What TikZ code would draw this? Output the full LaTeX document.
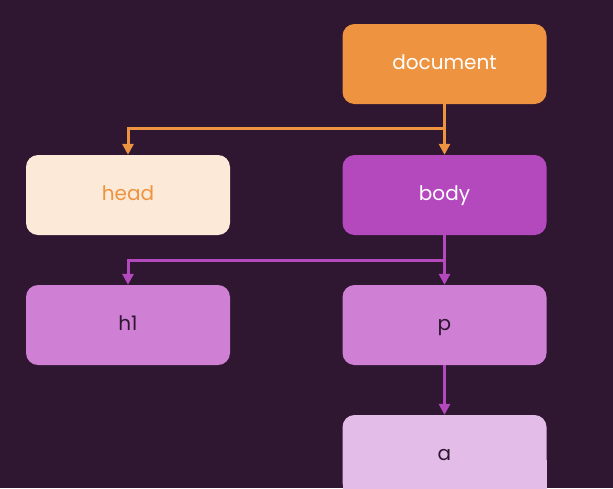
\documentclass[tikz,border=0pt]{standalone}
\usepackage{fontspec}
\setmainfont{Poppins}
\usetikzlibrary{arrows.meta}
\definecolor{bg}{HTML}{2F1631}
\definecolor{docorange}{HTML}{EE9441}
\definecolor{headcream}{HTML}{FCE9D8}
\definecolor{bodypurple}{HTML}{B449BE}
\definecolor{elpurple}{HTML}{CF7FD4}
\definecolor{leafpurple}{HTML}{E4BCE8}
\tikzset{
  box/.style={rectangle, rounded corners=12pt, minimum width=204pt, minimum height=80pt, inner sep=0pt, text height=14pt, text depth=3pt, font=\fontsize{20}{24}\selectfont},
  link/.style={line width=3pt, -{Triangle[length=11pt, width=11pt]}}
}
\begin{document}
\begin{tikzpicture}[x=1pt, y=-1pt]
                \fill[bg] (0, 0) rectangle (613, 488);
                \useasboundingbox (0, 0) rectangle (613, 488);
                \clip (0, 0) rectangle (613, 488);

                % the a box runs off the bottom edge
                \fill[leafpurple] (342.5, 460) rectangle (546.5, 490);

                \node (document) at (444.5, 64) [box, fill=docorange, text=white] {document};
                \node (head) at (128, 195) [box, fill=headcream, text=docorange] {head};
                \node (body) at (444.5, 195) [box, fill=bodypurple, text=white] {body};
                \node (h1) at (128, 325) [box, fill=elpurple, text=bg] {h1};
                \node (p) at (444.5, 325) [box, fill=elpurple, text=bg] {p};
                \node (a) at (444.5, 455) [box, fill=leafpurple, text=bg] {a};

                \coordinate (split1) at (444.5, 128);
                \coordinate (split2) at (444.5, 260);

                \draw[link, docorange] (document.south) -- (body.north);
                \draw[link, docorange] (split1) -| (head.north);
                \draw[link, bodypurple] (body.south) -- (p.north);
                \draw[link, bodypurple] (split2) -| (h1.north);
                \draw[link, bodypurple] (p.south) -- (a.north);
            \end{tikzpicture}
\end{document}
